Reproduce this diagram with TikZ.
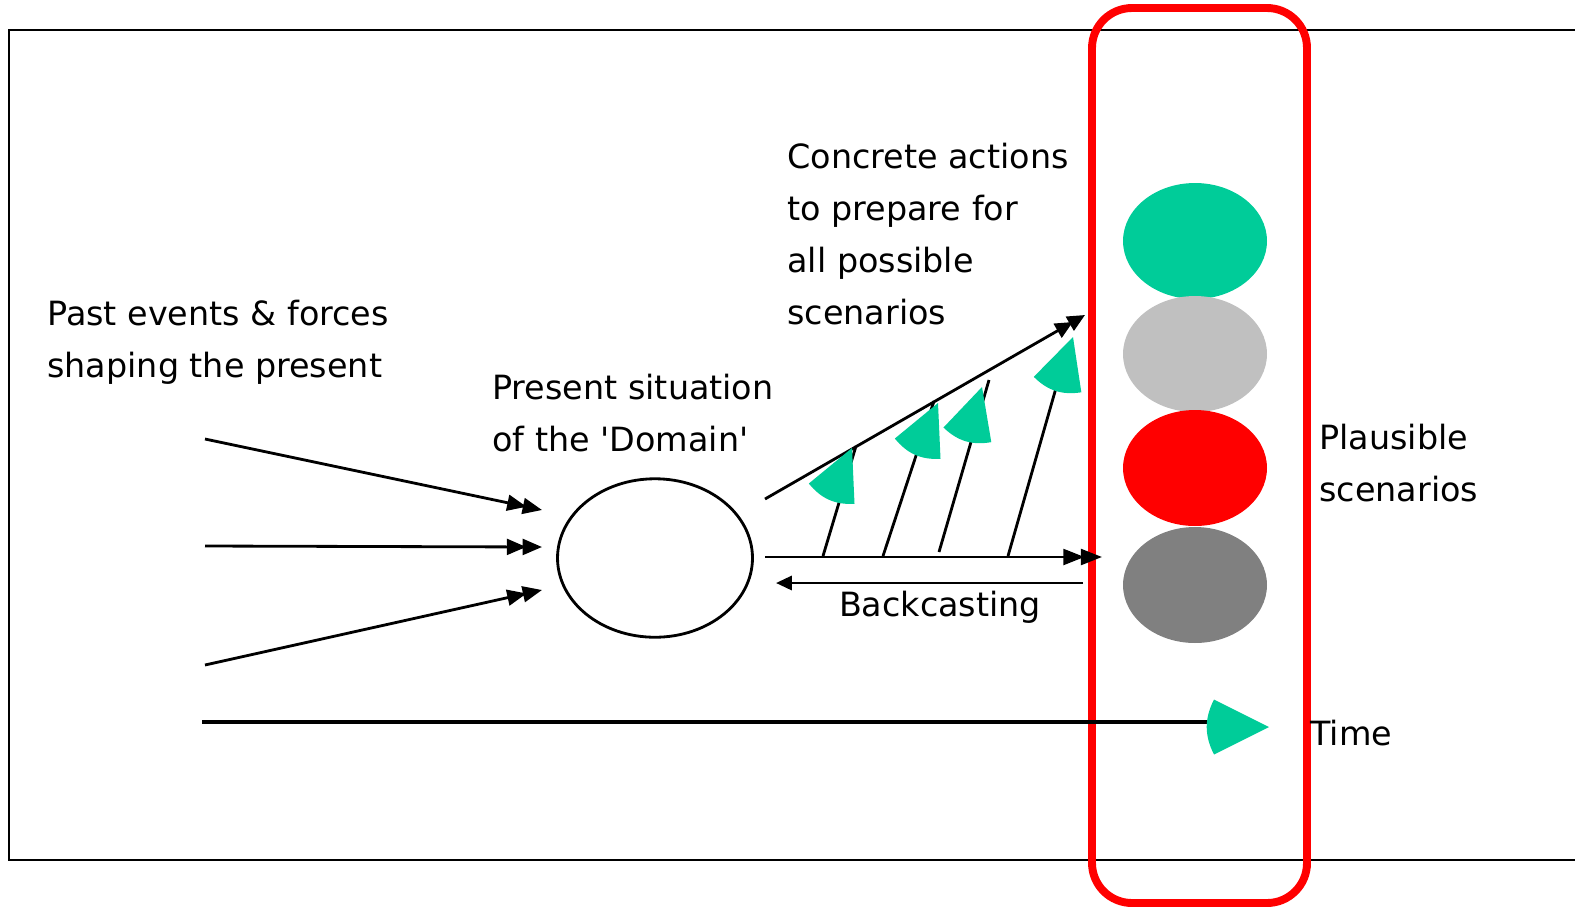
\documentclass[tikz,border=0pt]{standalone}
\usepackage{fontspec}
\setmainfont{DejaVu Sans}
\usetikzlibrary{shapes.geometric,arrows.meta}
\definecolor{scgreen}{RGB}{0,204,153}
\definecolor{scgrayl}{RGB}{192,192,192}
\definecolor{scgrayd}{RGB}{128,128,128}

\begin{document}
\begin{tikzpicture}[x=0.02cm, y=-0.02cm, line width=1.6pt,
        lbl/.style={inner sep=0pt, align=left, anchor=west, font=\fontsize{19}{29.5}\selectfont},
        scen/.style={ellipse, minimum width=2.88cm, minimum height=2.32cm, inner sep=0pt},
        dblarrow/.style={-{Triangle[length=#1,width=9pt,sep=-2pt] Triangle[length=#1,width=9pt]}},
        wedge/.pic={\fill[scgreen] (0,0) -- (-50,-25) to[bend right=27] (-50,25) -- cycle;}]
    \useasboundingbox (0,0) rectangle (1575,907);
    \clip (0,0) rectangle (1575,907);

    % frame and the future window
    \draw (9,30) rectangle (1610,860);
    \draw[red, line width=4.5pt, rounded corners=0.8cm] (1092,8) rectangle (1307,903);

    % past and present
    \node[draw, ellipse, minimum width=3.9cm, minimum height=3.17cm, inner sep=0pt] (domain) at (655,558) {};
    \coordinate (pastA) at (205,439);
    \coordinate (pastB) at (205,546);
    \coordinate (pastC) at (205,665);
    \coordinate (inA) at (542,510);
    \coordinate (inB) at (542,547);
    \coordinate (inC) at (542,590);
    \draw[dblarrow=11pt] (pastA) -- (inA);
    \draw[dblarrow=11pt] (pastB) -- (inB);
    \draw[dblarrow=11pt] (pastC) -- (inC);

    \node[lbl] (pasttxt) at (46,342) {Past events \& forces\\shaping the present};
    \node[lbl] (domtxt) at (491,413) {Present situation\\of the \textquotesingle Domain\textquotesingle};
    \node[lbl] (acttxt) at (786,234) {Concrete actions\\to prepare for\\all possible\\scenarios};

    % actions and backcasting
    \coordinate (upS) at (765,499);
    \coordinate (upE) at (1085,315);
    \coordinate (midS) at (765,557);
    \coordinate (midE) at (1102,557);
    \coordinate (backS) at (1083,583);
    \coordinate (backE) at (776,583);
    \draw[dblarrow=10pt] (upS) -- (upE);
    \draw[dblarrow=12pt] (midS) -- (midE);
    \draw[-{Triangle[length=9pt,width=8pt]}] (backS) -- (backE);
    \node[lbl, anchor=center] (backtxt) at (940,607) {Backcasting};

    \draw (823,556) -- (856,446);
    \draw (883,556) -- (934,401);
    \draw (939,552) -- (989,380);
    \draw (1008,556) -- (1064,360);
    \pic[rotate=66] at (852,448) {wedge};
    \pic[rotate=66] at (938,403) {wedge};
    \pic[rotate=73] at (982,387) {wedge};
    \pic[rotate=72] at (1073,337) {wedge};

    % scenarios
    \node[scen, fill=scgreen] (scA) at (1195,241) {};
    \node[scen, fill=scgrayl] (scB) at (1195,354) {};
    \node[scen, fill=red] (scC) at (1195,468) {};
    \node[scen, fill=scgrayd] (scD) at (1195,585) {};
    \node[lbl] (plaustxt) at (1318,463) {Plausible\\scenarios};

    % time axis
    \coordinate (tS) at (202,722);
    \coordinate (tE) at (1212,722);
    \draw[line width=2.8pt] (tS) -- (tE);
    \pic[scale=1.1] at (1269,727) {wedge};
    \node[lbl] (timetxt) at (1309,733) {Time};
\end{tikzpicture}
\end{document}
